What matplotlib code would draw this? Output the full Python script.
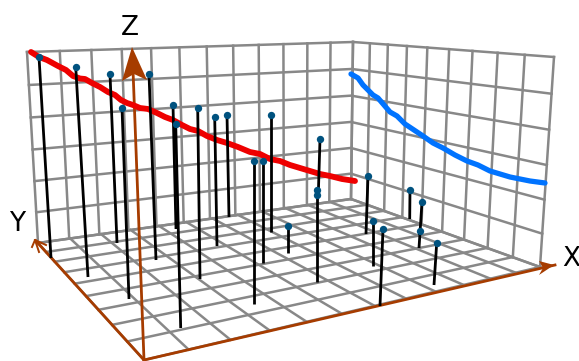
import numpy as np
import matplotlib
matplotlib.use("Agg")
import matplotlib.pyplot as plt
from matplotlib.patches import Polygon

# Box corners as seen in the picture
origin = (144, 360)
x_end = (540, 267)
y_end = (38, 243)
floor_back = (351, 199)
left_top = (27, 52)
back_top = (353, 42)
right_top = (554, 57)

n_x, n_y, n_z = 12, 9, 6

# Stems
stem_top_x = [39, 75.7, 110, 122, 149, 173, 175.7, 197.7, 214.7, 227, 253.7, 263.3, 270.7, 287.7,
              320, 317, 317, 368, 410, 422, 419.7, 373, 383, 436.7]
stem_top_y = [57, 66.7, 74, 108, 74, 105, 124, 108, 117, 115, 161, 161, 115, 226,
              139, 190, 195, 176, 190, 202, 231, 221, 229, 243]
stem_base_x = [51, 88, 117, 129, 156, 176, 180.7, 200, 217, 229, 253.7, 263.3, 270.7, 287.7,
               318.5, 317, 317, 366, 409.7, 419, 419.5, 373, 380, 434]
stem_base_y = [258, 277, 243, 299, 260, 229, 328, 279, 246, 217, 304, 263, 232, 253,
               188, 195, 282, 234, 219, 248, 235, 266, 306, 285]

red_x = [31, 39, 47, 58, 66, 73, 80, 85, 92, 100, 108, 115, 121, 127, 133, 140, 148, 157, 165, 173, 182, 190,
         198, 207, 217, 227, 238, 250, 260, 270, 280, 290, 300, 310, 320, 330, 342, 355]
red_y = [52, 57, 60, 66, 70, 76, 78.5, 79, 83, 87, 92, 95, 100, 103, 105, 108, 109, 113, 117, 120, 125, 129,
         131, 136, 140, 143, 147, 152, 154, 159, 161, 165, 168, 171, 174, 176, 179, 181]
blue_x = [351, 358, 363, 368, 373, 378, 384, 390, 397, 405, 414, 423, 433, 443, 455, 467, 478, 490, 500, 510,
          520, 530, 545]
blue_y = [74, 78, 85, 90, 95, 98, 105, 112, 116, 124, 130, 136, 143, 148, 155, 161, 165, 171, 174, 177,
          179, 181, 183]

GRID = "#888888"
AXIS = "#A63C00"
DOT = "#00527F"


def homography(src, dst):
    rows = []
    for (u, v), (a, b) in zip(src, dst):
        rows.append([u, v, 1, 0, 0, 0, -a * u, -a * v, -a])
        rows.append([0, 0, 0, u, v, 1, -b * u, -b * v, -b])
    return np.linalg.svd(np.array(rows, float))[2][-1].reshape(3, 3)


def apply(h, u, v):
    p = h @ np.array([u, v, 1.0])
    return p[0] / p[2], p[1] / p[2]


def grid_lines(ax, quad, n_u, n_v):
    h = homography([(0, 0), (1, 0), (1, 1), (0, 1)], quad)
    for i in range(n_u + 1):
        a, b = apply(h, i / n_u, 0), apply(h, i / n_u, 1)
        ax.plot([a[0], b[0]], [a[1], b[1]], color=GRID, lw=1.8, zorder=1, solid_capstyle="projecting")
    for j in range(n_v + 1):
        a, b = apply(h, 0, j / n_v), apply(h, 1, j / n_v)
        ax.plot([a[0], b[0]], [a[1], b[1]], color=GRID, lw=1.8, zorder=1, solid_capstyle="projecting")


fig = plt.figure(figsize=(5.79, 3.61), dpi=100)
ax = fig.add_axes([0, 0, 1, 1])
ax.set_xlim(0, 579)
ax.set_ylim(361, 0)
ax.axis("off")

grid_lines(ax, [origin, x_end, floor_back, y_end], n_x, n_y)   # floor
grid_lines(ax, [y_end, floor_back, back_top, left_top], n_x, n_z)  # back wall
grid_lines(ax, [floor_back, x_end, right_top, back_top], n_y, n_z)  # right wall

# Axes
ax.plot([origin[0], 555], [origin[1], 265], color=AXIS, lw=2.0, zorder=2)
ax.plot([origin[0], 36], [origin[1], 241], color=AXIS, lw=2.0, zorder=2)
ax.plot([origin[0], 133], [origin[1], 70], color=AXIS, lw=2.0, zorder=2)
ax.add_patch(Polygon([(132, 47), (122, 81), (134, 74), (147, 80)], closed=True, color=AXIS, lw=0, zorder=2))
ax.add_patch(Polygon([(554, 265), (539, 261), (543, 268), (539, 275)], closed=True, color=AXIS, lw=0, zorder=2))
ax.plot([32, 35, 46], [247, 240, 245], color=AXIS, lw=1.4, zorder=2)
ax.plot([35, 39], [240, 252], color=AXIS, lw=1.4, zorder=2)

# Curves
ax.plot(red_x, red_y, color="#EE0000", lw=4.2, zorder=3, solid_capstyle="round")
ax.plot(blue_x, blue_y, color="#0073FF", lw=3.8, zorder=3, solid_capstyle="round")

# Stems
for tx, ty, bx, by in zip(stem_top_x, stem_top_y, stem_base_x, stem_base_y):
    ax.plot([tx, bx], [ty, by], color="black", lw=2.0, zorder=4, solid_capstyle="butt")
ax.scatter(stem_top_x, stem_top_y, s=28, color=DOT, linewidths=0, zorder=5)

# Axis names
ax.text(130, 28, "Z", fontsize=19, ha="center", va="center", color="black", zorder=6)
ax.text(17, 224, "Y", fontsize=19, ha="center", va="center", color="black", zorder=6)
ax.text(571, 259, "X", fontsize=19, ha="center", va="center", color="black", zorder=6)

fig.savefig("out.png", dpi=100)
